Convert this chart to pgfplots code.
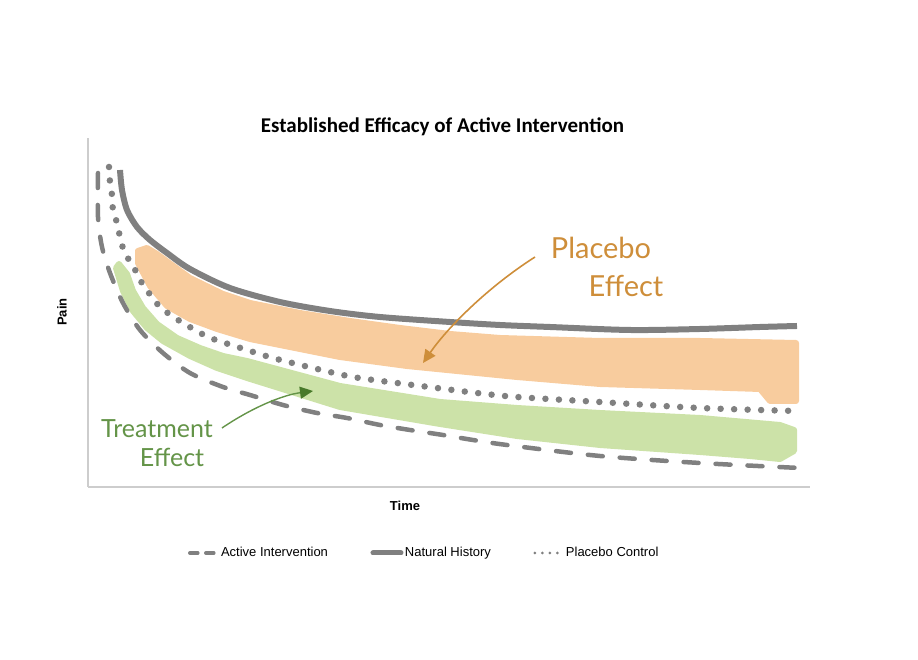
\documentclass[border=0pt]{standalone}
\usepackage{fontspec}
\setmainfont{Liberation Sans}
\newfontfamily\titlefont{Carlito}
\newfontfamily\handfont{Lato}
\usepackage{pgfplots}
\pgfplotsset{compat=1.18}
\usetikzlibrary{arrows.meta}
\definecolor{linegray}{RGB}{128,128,128}
\definecolor{axisgray}{RGB}{205,205,205}
\definecolor{peach}{RGB}{248,204,158}
\definecolor{leaf}{RGB}{204,226,168}
\definecolor{ochre}{RGB}{206,142,58}
\definecolor{moss}{RGB}{100,148,72}
\definecolor{darkmoss}{RGB}{72,122,42}
\begin{document}
\begin{tikzpicture}[x=1pt,y=1pt]
\path[use as bounding box] (0,0) rectangle (918,660);
\begin{axis}[
  at={(88pt,173pt)}, anchor=south west,
  width=722pt, height=349pt, scale only axis,
  xmin=0, xmax=722, ymin=0, ymax=349,
  axis x line*=bottom, axis y line*=left,
  axis line style={axisgray, line width=1.2pt, -},
  xtick=\empty, ytick=\empty,
  clip=false,
  legend columns=3,
  legend style={at={(axis cs:336,-66)}, anchor=center, draw=none, fill=none,
    font=\fontsize{13}{15}\selectfont, nodes={inner sep=1.5pt},
    /tikz/every even column/.append style={column sep=41pt}},
]
% bands
\addplot[fill=peach, draw=peach, line width=6pt, line join=round, forget plot] coordinates {
 (50,236) (59,239) (69,233) (102,209) (135,193) (162,184) (212,174) (262,166) (312,159) (362,153) (412,149) (512,146) (612,146) (708,144)
 (708,86) (682,86) (672,98) (612,100) (512,103) (429,110) (319,121) (252,130) (162,148) (129,158) (102,168) (79,181) (62,201) (50,224)
} -- cycle;
\addplot[fill=leaf, draw=leaf, line width=6pt, line join=round, forget plot] coordinates {
 (31,223) (39,213) (45,196) (55,179) (69,163) (89,149) (112,139) (135,131) (159,126) (252,101) (352,85) (429,79) (512,74) (612,69) (692,62) (706,57)
 (706,36) (692,28) (662,31) (612,35) (512,42) (429,51) (352,63) (252,80) (159,109) (129,119) (102,131) (75,146) (59,159) (45,176) (35,196) (28,219)
} -- cycle;
% lines
\addplot[linegray, line width=4.5pt, line cap=round, dash pattern=on 15pt off 17pt, smooth,
  legend image code/.code={\draw[linegray, line width=3.5pt, line cap=round, dash pattern=on 8pt off 8pt] (0pt,0pt) -- (28pt,0pt);}]
 coordinates {
 (10,314) (10,270) (14,240) (22,214) (35,184) (52,157) (75,134) (102,114) (135,100) (162,92) (195,82) (229,74) (259,69) (292,62) (322,57) (355,52) (385,47) (419,42) (512,31) (612,24) (712,19)
};
\addlegendentry{Active Intervention}
\addplot[linegray, line width=6pt, smooth,
  legend image code/.code={\draw[linegray, line width=5pt, line cap=round] (0pt,0pt) -- (28pt,0pt);}]
 coordinates {
 (32,317) (34,297) (39,277) (49,260) (62,247) (79,234) (102,218) (142,199) (192,185) (242,176) (292,170) (362,165) (412,162) (462,160) (542,157) (612,158) (672,160) (709,161)
};
\addlegendentry{Natural History}
\addplot[linegray, line width=6.5pt, line cap=round, dash pattern=on 0pt off 13.5pt, smooth,
  legend image code/.code={\draw[linegray, line width=3pt, line cap=round, dash pattern=on 0pt off 7.5pt] (2pt,0pt) -- (30pt,0pt);}]
 coordinates {
 (21,320) (22,305) (24,292) (25,277) (29,264) (32,250) (35,239) (42,225) (49,214) (55,202) (64,190) (72,180) (84,171) (95,164) (107,157) (120,150) (134,145) (159,137) (185,129) (225,119) (265,110) (309,104) (349,99) (389,94) (429,90) (512,85) (612,79) (709,76)
};
\addlegendentry{Placebo Control}
% annotations
\draw[ochre, line width=1.6pt, -{Triangle[length=13pt,width=12pt]}]
  (axis cs:447,230) .. controls (axis cs:400,200) and (axis cs:360,160) .. (axis cs:335,124);
\node[ochre, font=\handfont\fontsize{29}{31}\selectfont] at (axis cs:513,239) {Placebo};
\node[ochre, font=\handfont\fontsize{29}{31}\selectfont] at (axis cs:538,201) {Effect};
\draw[moss, line width=1.4pt, -{Triangle[length=13pt,width=12pt, color=darkmoss]}]
  (axis cs:134,59) .. controls (axis cs:165,80) and (axis cs:195,92) .. (axis cs:225,96);
\node[moss, font=\handfont\fontsize{25}{27}\selectfont] at (axis cs:69,58) {Treatment};
\node[moss, font=\handfont\fontsize{25}{27}\selectfont] at (axis cs:84,30) {Effect};
% titles
\node[font=\titlefont\bfseries\fontsize{21}{24}\selectfont] at (axis cs:354.5,360) {Established Efficacy of Active Intervention};
\node[font=\bfseries\fontsize{13}{15}\selectfont] at (axis cs:317,-19) {Time};
\node[font=\bfseries\fontsize{13}{15}\selectfont, rotate=90] at (axis cs:-26,175) {Pain};
\end{axis}
\end{tikzpicture}
\end{document}
